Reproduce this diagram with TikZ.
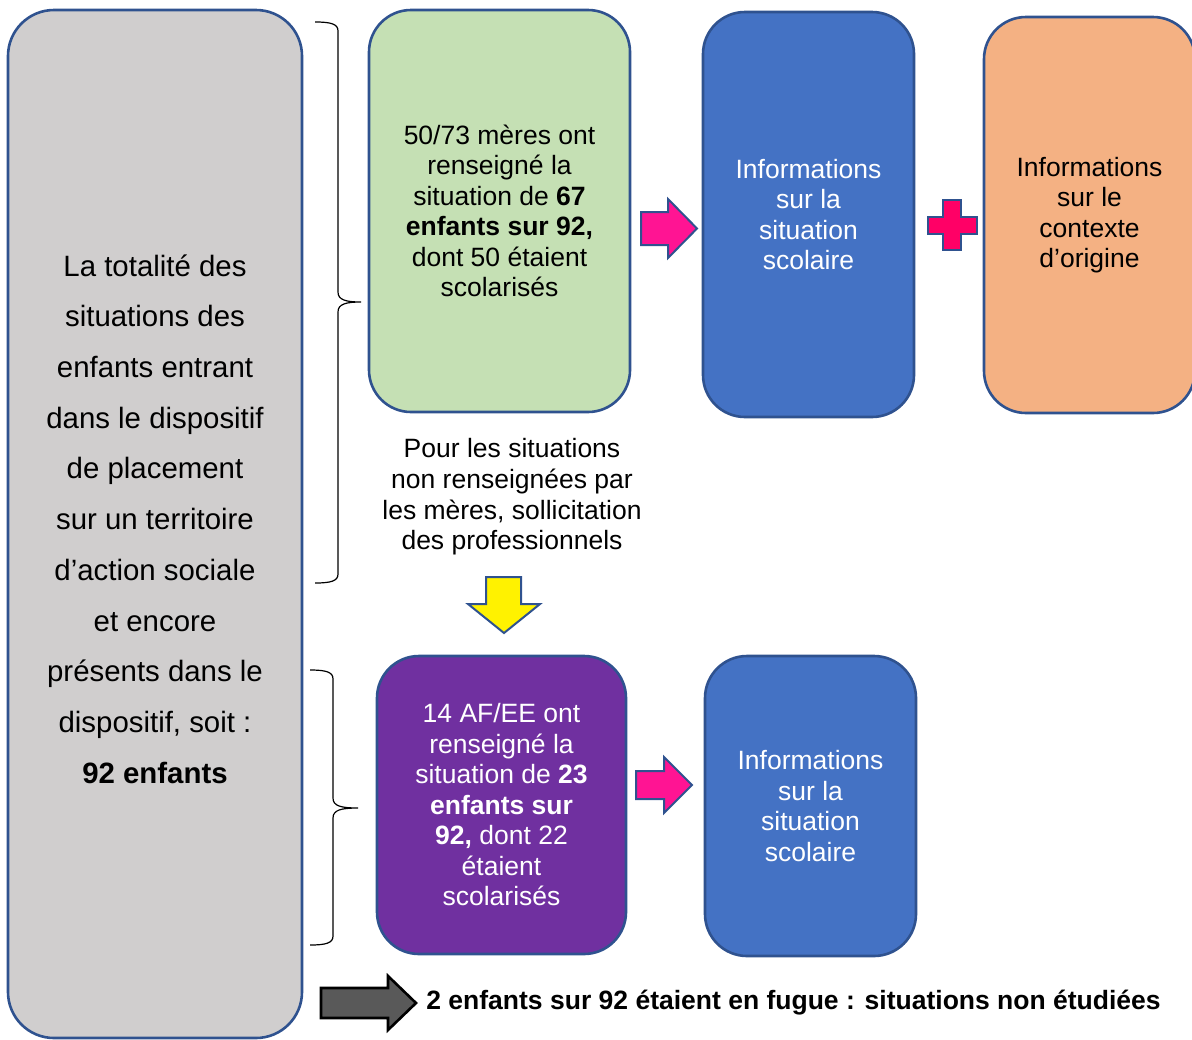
\documentclass[tikz,border=0pt]{standalone}
\usepackage{fontspec}
\setmainfont{Liberation Sans}

\definecolor{bordure}{HTML}{2F528F}
\definecolor{gris}{HTML}{D0CECE}
\definecolor{vert}{HTML}{C5E0B4}
\definecolor{bleu}{HTML}{4472C4}
\definecolor{saumon}{HTML}{F4B183}
\definecolor{pourpre}{HTML}{7030A0}
\definecolor{rose}{HTML}{FF1493}
\definecolor{rouge}{HTML}{FF0066}
\definecolor{grisfonce}{HTML}{595959}

\tikzstyle{mybox} = [draw=bordure, line width=1.3pt, rectangle, rounded corners=21pt, align=center, inner sep=0pt, font=\fontsize{13.25}{15.25}\selectfont]
\tikzstyle{totalbox} = [mybox, fill=gris, rounded corners=23pt]
\tikzstyle{merebox} = [mybox, fill=vert]
\tikzstyle{infobox} = [mybox, fill=bleu, text=white]
\tikzstyle{contextebox} = [mybox, fill=saumon]
\tikzstyle{afbox} = [mybox, fill=pourpre, text=white]
\tikzstyle{flechebloc} = [draw=bordure, line width=1pt, fill=rose]
\tikzstyle{accolade} = [draw=black, line width=0.6pt]
\tikzstyle{note} = [align=center, inner sep=0pt, font=\fontsize{13.25}{15.35}\selectfont]

\begin{document}
\begin{tikzpicture}[x=0.5pt, y=-0.5pt]
	\useasboundingbox (0,0) rectangle (1192,1039);

	% colonne de gauche
	\node [totalbox, minimum width=147pt, minimum height=514pt] (total) at (155,524) {};
	\node [note, font=\fontsize{14.7}{25.35}\selectfont] (totaltexte) at (155,519) {%
		La totalité des\\ situations des\\ enfants entrant\\ dans le dispositif\\ de placement\\
		sur un territoire\\ d’action sociale\\ et encore\\ présents dans le\\ dispositif, soit :\\
		\textbf{92 enfants}};

	% ligne des meres
	\node [merebox, minimum width=130.5pt, minimum height=201pt] (meres) at (499.5,211) {%
		50/73 mères ont\\ renseigné la\\ situation de \textbf{67}\\ \textbf{enfants sur 92,}\\ dont 50 étaient\\ scolarisés};
	\node [infobox, minimum width=105.5pt, minimum height=202.5pt] (info1) at (808.5,214.5) {%
		Informations\\ sur la\\ situation\\ scolaire};
	\node [contextebox, minimum width=105.5pt, minimum height=198pt] (contexte) at (1089.5,215) {%
		Informations\\ sur le\\ contexte\\ d’origine};

	\node [note] (sollicitation) at (512,497) {%
		Pour les situations\\ non renseignées par\\ les mères, sollicitation\\ des professionnels};

	% ligne des AF/EE
	\node [afbox, minimum width=124.5pt, minimum height=149pt] (afee) at (501.5,805) {%
		14 AF/EE ont\\ renseigné la\\ situation de \textbf{23}\\ \textbf{enfants sur}\\ \textbf{92,} dont 22\\ étaient\\ scolarisés};
	\node [infobox, minimum width=105.5pt, minimum height=150pt] (info2) at (810.5,806) {%
		Informations\\ sur la\\ situation\\ scolaire};

	\node [note, anchor=west] (fugue) at (426,1003) {%
		\textbf{2 enfants sur 92 étaient en fugue : situations non étudiées}};

	% accolades
	\draw [accolade] (315,22) .. controls (331,22) and (338,24) .. (338,31) -- (338,292)
		.. controls (338,300) and (346,302) .. (361,302)
		.. controls (346,302) and (338,304) .. (338,312) -- (338,574)
		.. controls (338,581) and (331,583) .. (315,583);
	\draw [accolade] (310,670) .. controls (326,670) and (333,672) .. (333,679) -- (333,798)
		.. controls (333,806) and (341,808) .. (358,808)
		.. controls (341,808) and (333,810) .. (333,818) -- (333,936)
		.. controls (333,943) and (326,945) .. (310,945);

	% fleches
	\draw [flechebloc] (641,212) -- (668,212) -- (668,199) -- (697,228.5) -- (668,258) -- (668,245) -- (641,245) -- cycle;
	\draw [flechebloc] (636,771) -- (664,771) -- (664,757) -- (692,785) -- (664,813) -- (664,799) -- (636,799) -- cycle;
	\draw [flechebloc, fill=yellow] (486,577) -- (521,577) -- (521,604) -- (540,604) -- (504,633) -- (468,604) -- (486,604) -- cycle;
	\draw [draw=black, line width=1.3pt, fill=grisfonce] (321,988) -- (388,988) -- (388,976) -- (416,1003) -- (388,1030) -- (388,1018) -- (321,1018) -- cycle;

	% plus
	\draw [flechebloc, fill=rouge, line width=0.8pt] (943,200) -- (961,200) -- (961,217) -- (977,217) -- (977,234) -- (961,234)
		-- (961,250) -- (943,250) -- (943,234) -- (928,234) -- (928,217) -- (943,217) -- cycle;
\end{tikzpicture}
\end{document}
